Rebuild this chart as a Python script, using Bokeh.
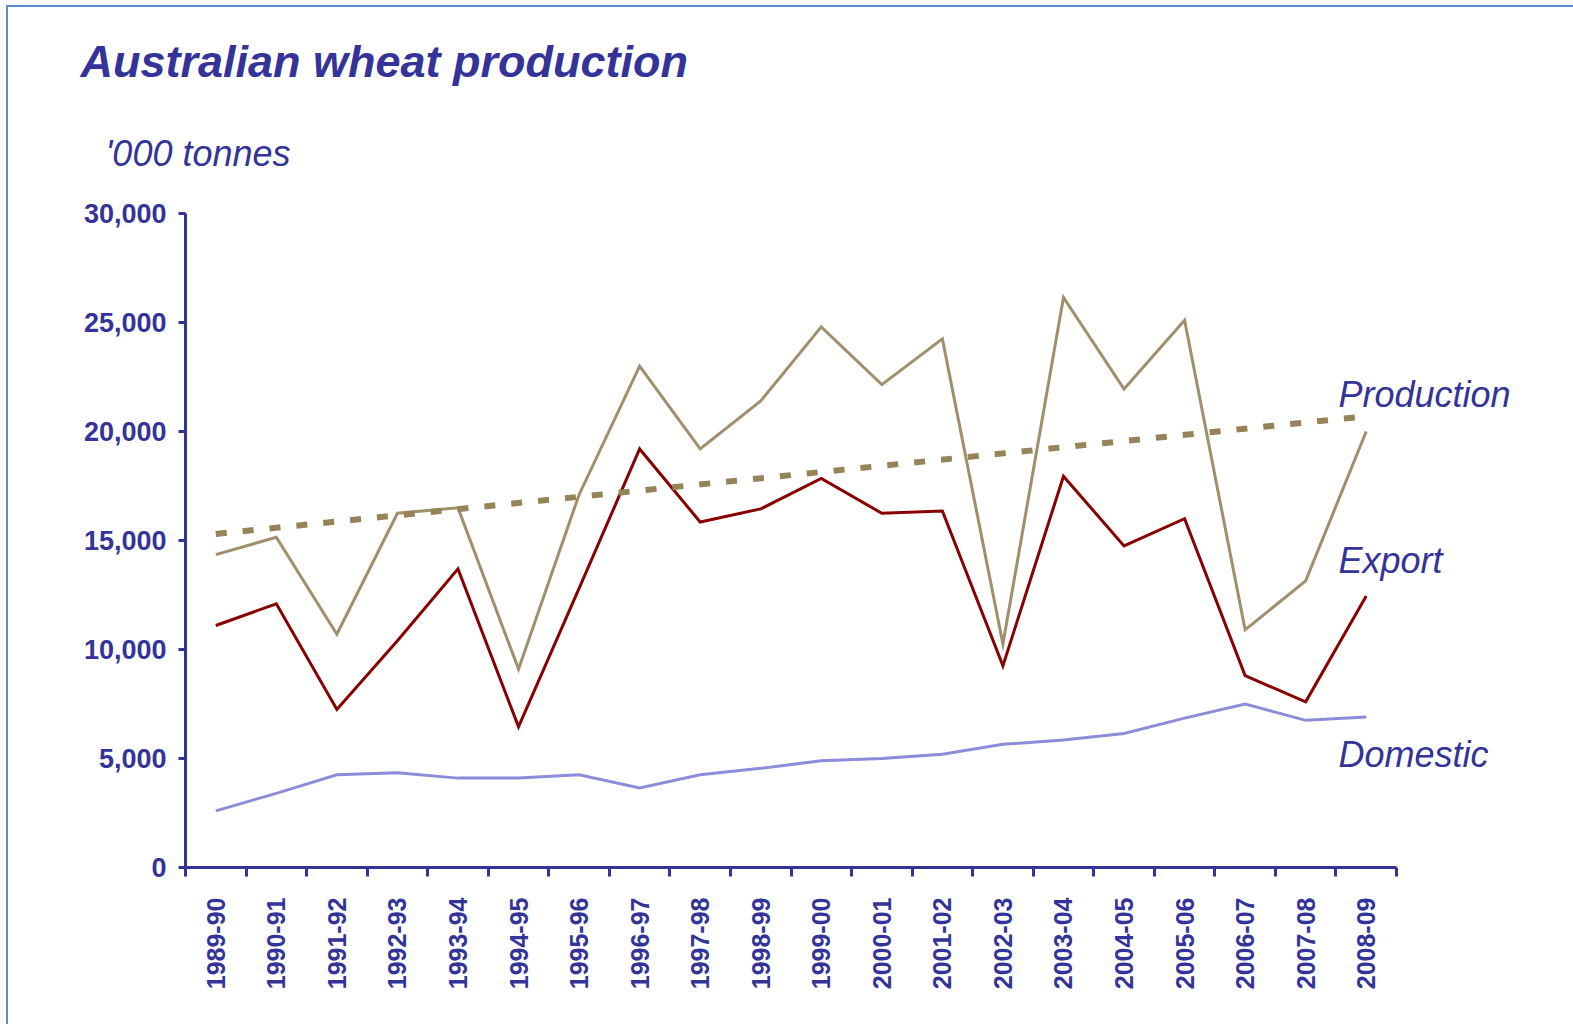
import numpy as np
from bokeh.plotting import figure
from bokeh.models import (Range1d, FixedTicker, CustomJSTickFormatter,
                          NumeralTickFormatter, Label, Title)
from bokeh.embed import file_html
from bokeh.resources import INLINE

# ---- data ('000 tonnes) ----
seasons = ["1989-90", "1990-91", "1991-92", "1992-93", "1993-94", "1994-95",
           "1995-96", "1996-97", "1997-98", "1998-99", "1999-00", "2000-01",
           "2001-02", "2002-03", "2003-04", "2004-05", "2005-06", "2006-07",
           "2007-08", "2008-09"]
production = [14350, 15150, 10700, 16250, 16500, 9100, 17100, 23000, 19200,
              21400, 24800, 22150, 24250, 10250, 26150, 21950, 25100, 10900,
              13150, 20000]
export = [11100, 12100, 7250, 10400, 13700, 6450, 12800, 19200, 15850, 16450,
          17850, 16250, 16350, 9250, 17950, 14750, 16000, 8800, 7600, 12450]
domestic = [2600, 3400, 4250, 4350, 4100, 4100, 4250, 3650, 4250, 4550, 4900,
            5000, 5200, 5650, 5850, 6150, 6850, 7500, 6750, 6900]
trend_ends = [15300, 20700]   # production trend at first and last season
y_ticks = [0, 5000, 10000, 15000, 20000, 25000, 30000]

NAVY = "#333399"
FONT = "Liberation Sans"

n = len(seasons)
xs = np.arange(n) + 0.5

W, H = 1573, 1024
LEFT, TOP, PLOT_W, PLOT_H = 185, 213, 1211, 654
x_end = n * (W - 3 - LEFT) / PLOT_W   # frame continues right to hold labels

p = figure(width=W, height=H, output_backend="svg", toolbar_location=None,
           title=None,
           x_range=Range1d(0, x_end), y_range=Range1d(0, 30000),
           min_border_left=LEFT, min_border_right=3, min_border_top=TOP,
           min_border_bottom=H - TOP - PLOT_H)
p.outline_line_color = None
p.grid.visible = False
p.background_fill_color = None
p.border_fill_color = None
p.styles = {"box-shadow": "inset 6px 5px 0 0 white, inset 8px 7px 0 0 #5B8BD5",
            "background-color": "white"}

# lines
p.line(xs, domestic, line_color="#8C8CDA", line_width=3, line_join="miter")
p.line(xs, export, line_color="#880000", line_width=3, line_join="miter")
p.line(xs, production, line_color="#A08F6B", line_width=3, line_join="miter")
p.line([xs[0], xs[-1]], trend_ends, line_color="#968357", line_width=6,
       line_dash="11 16")

# axes
xa = p.xaxis[0]
xa.bounds = (0, n)
xa.ticker = FixedTicker(ticks=list(xs), minor_ticks=list(range(n + 1)))
xa.formatter = CustomJSTickFormatter(args=dict(labels=seasons),
                                     code="return labels[Math.round(tick - 0.5)] || ''")
xa.major_label_orientation = np.pi / 2
xa.major_tick_out = 0
xa.major_tick_in = 0
xa.minor_tick_out = 9
xa.minor_tick_in = 0
xa.minor_tick_line_color = NAVY
xa.minor_tick_line_width = 3
xa.axis_line_color = NAVY
xa.axis_line_width = 3
xa.major_label_standoff = 21
xa.major_label_text_font = FONT
xa.major_label_text_font_style = "bold"
xa.major_label_text_font_size = "25px"
xa.major_label_text_color = NAVY

ya = p.yaxis[0]
ya.ticker = FixedTicker(ticks=y_ticks)
ya.formatter = NumeralTickFormatter(format="0,0")
ya.major_tick_out = 7
ya.major_tick_in = 0
ya.minor_tick_out = 0
ya.minor_tick_in = 0
ya.major_tick_line_color = NAVY
ya.major_tick_line_width = 3
ya.axis_line_color = NAVY
ya.axis_line_width = 3
ya.major_label_standoff = 12
ya.major_label_text_font = FONT
ya.major_label_text_font_style = "bold"
ya.major_label_text_font_size = "27px"
ya.major_label_text_color = NAVY

# titles above the frame (first added sits closest to the frame)
p.add_layout(Title(text="'000 tonnes", align="left", offset=-80, standoff=79,
                   text_font=FONT, text_font_size="36px",
                   text_font_style="italic", text_color=NAVY), "above")
p.add_layout(Title(text="Australian wheat production", align="left", offset=-105,
                   standoff=10, text_font=FONT, text_font_size="45px",
                   text_font_style="bold italic", text_color=NAVY), "above")

# series labels (screen units relative to frame bottom-left)
def add_label(text, x, y):
    p.add_layout(Label(x=x, y=y, x_units="screen", y_units="screen", text=text,
                       text_font=FONT, text_font_size="36px",
                       text_font_style="italic", text_color=NAVY,
                       text_baseline="alphabetic", text_align="left"))

add_label("Production", 1153, 473)
add_label("Export", 1153, 307)
add_label("Domestic", 1153, 113)

open("out.html", "w").write(file_html(p, INLINE))
